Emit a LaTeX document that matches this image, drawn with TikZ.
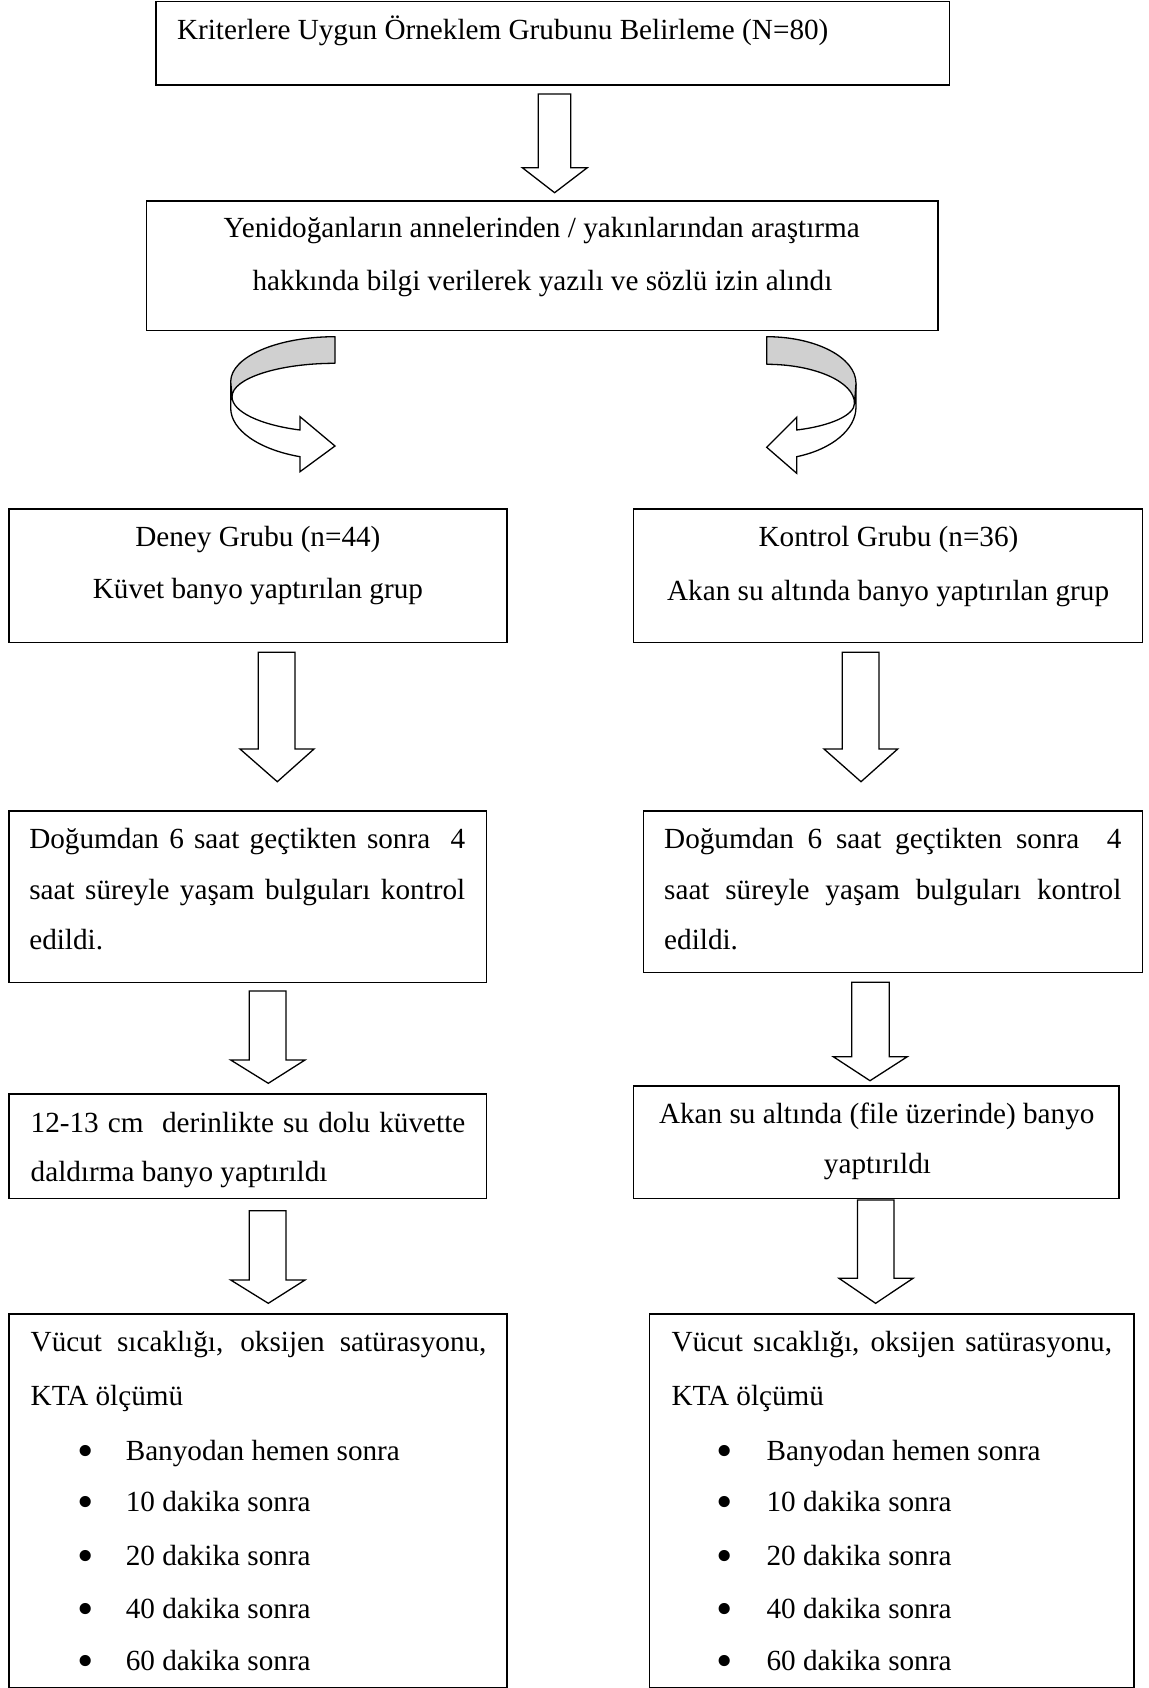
\documentclass[tikz,border=0pt]{standalone}
\usepackage{fontspec}
\setmainfont{Liberation Serif}
\definecolor{bandgray}{RGB}{208,208,208}
\begin{document}
\begin{tikzpicture}[x=1pt,y=-1pt,
  box/.style={draw, line width=1.5pt, rectangle, inner sep=0pt, outer sep=0pt},
  txt/.style={inner sep=0pt, outer sep=0pt, font=\fontsize{29.2pt}{35pt}\selectfont},
  blk/.style={draw, fill=white, line width=1.3pt, line join=miter},
  band/.style={draw, line width=1.3pt, line join=round, fill=bandgray},
  front/.style={draw, line width=1.3pt, line join=miter, fill=white}]
\useasboundingbox (0,0) rectangle (1148,1688);

% boxes
\node[box, minimum width=793.7pt, minimum height=83.3pt] (b1) at (552.65,43.35) {};
\node[box, minimum width=791.5pt, minimum height=129.7pt] (b2) at (542.05,265.85) {};
\node[box, minimum width=498.2pt, minimum height=133.7pt] (b3) at (257.9,575.85) {};
\node[box, minimum width=509.1pt, minimum height=133.7pt] (b4) at (888.05,575.85) {};
\node[box, minimum width=477.7pt, minimum height=171.3pt] (b5) at (247.65,896.65) {};
\node[box, minimum width=498.9pt, minimum height=161.7pt] (b6) at (893.15,891.85) {};
\node[box, minimum width=477.7pt, minimum height=104.3pt] (b7) at (247.65,1146.15) {};
\node[box, minimum width=485.7pt, minimum height=112.3pt] (b8) at (876.35,1142.15) {};
\node[box, minimum width=498.2pt, minimum height=373.3pt] (b9) at (257.9,1500.65) {};
\node[box, minimum width=484.3pt, minimum height=373.3pt] (b10) at (891.75,1500.65) {};

% texts
\node[txt, anchor=base west] (t1) at (177,39.3) {Kriterlere Uygun Örneklem Grubunu Belirleme (N=80)};
\node[txt, anchor=base] (t2a) at (541.7,238) {Yenidoğanların annelerinden / yakınlarından araştırma};
\node[txt, anchor=base] (t2b) at (542.4,290) {hakkında bilgi verilerek yazılı ve sözlü izin alındı};
\node[txt, anchor=base] (t3a) at (257.9,546.7) {Deney Grubu (n=44)};
\node[txt, anchor=base] (t3b) at (257.9,598.3) {Küvet banyo yaptırılan grup};
\node[txt, anchor=base] (t4a) at (888.5,546.7) {Kontrol Grubu (n=36)};
\node[txt, anchor=base] (t4b) at (888.1,600.7) {Akan su altında banyo yaptırılan grup};
\node[txt, anchor=base west] (t5a) at (29.3,848.3) {\makebox[436pt][s]{Doğumdan 6 saat geçtikten sonra\ \ 4}};
\node[txt, anchor=base west] (t5b) at (29.3,899.3) {\makebox[436pt][s]{saat süreyle yaşam bulguları kontrol}};
\node[txt, anchor=base west] (t5c) at (29.3,949.3) {edildi.};
\node[txt, anchor=base west] (t6a) at (664.2,848.3) {\makebox[457.2pt][s]{Doğumdan 6 saat geçtikten sonra\ \ 4}};
\node[txt, anchor=base west] (t6b) at (664.2,899.3) {\makebox[457.2pt][s]{saat süreyle yaşam bulguları kontrol}};
\node[txt, anchor=base west] (t6c) at (664.2,949.3) {edildi.};
\node[txt, anchor=base west] (t7a) at (30.7,1132.7) {\makebox[434.6pt][s]{12-13 cm\ \ derinlikte su dolu küvette}};
\node[txt, anchor=base west] (t7b) at (30.7,1181.7) {daldırma banyo yaptırıldı};
\node[txt, anchor=base] (t8a) at (876.7,1123.3) {Akan su altında (file üzerinde) banyo};
\node[txt, anchor=base] (t8b) at (877.5,1173.3) {yaptırıldı};
\node[txt, anchor=base west] (t9a) at (30.7,1351.7) {\makebox[455.8pt][s]{Vücut sıcaklığı, oksijen satürasyonu,}};
\node[txt, anchor=base west] (t9b) at (30.7,1405) {KTA ölçümü};
\node[txt, anchor=base west] (t10a) at (671.5,1351.7) {\makebox[440.5pt][s]{Vücut sıcaklığı, oksijen satürasyonu,}};
\node[txt, anchor=base west] (t10b) at (671.5,1405) {KTA ölçümü};
\foreach \yy/\ss [count=\i] in {1460/Banyodan hemen sonra, 1511.7/10 dakika sonra, 1565/20 dakika sonra, 1618.3/40 dakika sonra, 1670/60 dakika sonra}{
  \node[txt, anchor=base] (bl\i) at (85.6,\yy+6) {\scalebox{1.6}{•}};
  \node[txt, anchor=base west] (il\i) at (125.8,\yy) {\ss};
  \node[txt, anchor=base] (br\i) at (724.2,\yy+6) {\scalebox{1.6}{•}};
  \node[txt, anchor=base west] (ir\i) at (766.6,\yy) {\ss};
}

% block arrows
\draw[blk] (538.3,94) -- (570.7,94) -- (570.7,167.7) -- (587.3,167.7) -- (554.6,192.7) -- (522.3,167.7) -- (538.3,167.7) -- cycle;
\draw[blk] (258.3,652.3) -- (295,652.3) -- (295,749) -- (314,749) -- (277.3,781.7) -- (240,749) -- (258.3,749) -- cycle;
\draw[blk] (842.3,652.3) -- (879,652.3) -- (879,749) -- (897.7,749) -- (861,781.7) -- (824,749) -- (842.3,749) -- cycle;
\draw[blk] (249.3,991) -- (286,991) -- (286,1060) -- (305,1060) -- (268.3,1083.3) -- (230.7,1060) -- (249.3,1060) -- cycle;
\draw[blk] (851.7,982.3) -- (889.3,982.3) -- (889.3,1056.7) -- (907.3,1056.7) -- (870,1080.7) -- (833.3,1056.7) -- (851.7,1056.7) -- cycle;
\draw[blk] (249.3,1210.7) -- (286,1210.7) -- (286,1280) -- (305,1280) -- (268.3,1303.3) -- (230.7,1280) -- (249.3,1280) -- cycle;
\draw[blk] (857.4,1200) -- (894,1200) -- (894,1278.3) -- (913,1278.3) -- (875.6,1303.3) -- (839,1278.3) -- (857.4,1278.3) -- cycle;

% curved arrows
\draw[front] (230.7,381.7) -- (230.7,408) .. controls (230.7,429.9) and (258.4,449.4) .. (300,456.7) -- (300,471.7) -- (335,446) -- (300,416.7) -- (300,430) .. controls (259.9,424.9) and (232,411.6) .. (232,396.7) -- cycle;
\draw[band] (335,336.7) .. controls (277.4,336.7) and (230.7,356.8) .. (230.7,381.7) -- (232,396.7) .. controls (232,378.3) and (278.8,363.3) .. (335,363.3) -- cycle;

\draw[front] (856,383.3) -- (856,407) .. controls (856,429.3) and (832.3,449.2) .. (796.7,456.7) -- (796.7,473.3) -- (766.7,447.3) -- (796.7,417.3) -- (796.7,430) .. controls (830.6,425.9) and (854.5,415.2) .. (854.5,403.3) -- cycle;
\draw[band] (766.7,336.7) .. controls (816,336.7) and (856,357.6) .. (856,383.3) -- (854.5,403.3) .. controls (854.5,381.8) and (814.5,364.3) .. (766.7,364.3) -- cycle;
\end{tikzpicture}
\end{document}
